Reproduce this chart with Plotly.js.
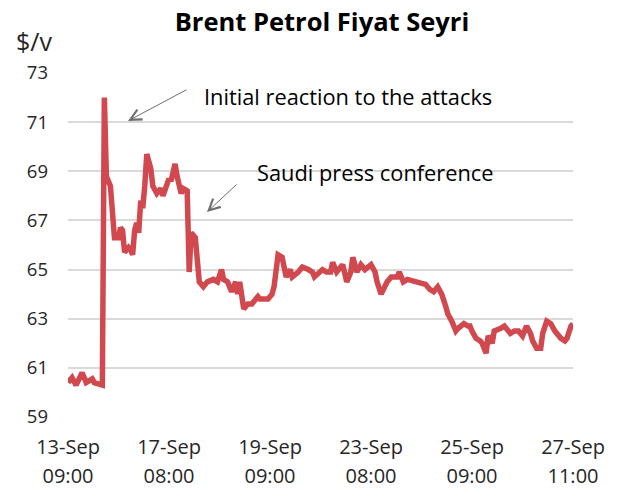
<!DOCTYPE html>
<html>
<head>
<meta charset="utf-8">
<script src="https://cdn.plot.ly/plotly-3.0.1.min.js"></script>
<style>
  html, body { margin: 0; padding: 0; background: #fff; }
  #chart { width: 618px; height: 493px; }
</style>
</head>
<body>
<div id="chart"></div>
<script>
// bar index along the (trading-hours) category axis
var barIdx = [0,2,4,7,9,12,13,16,17,18,19,21,23,25,26,27,28,30,31,32,33,34,35,36,37,38,39,41,42,44,46,47,48,50,51,53,54,56,57,59,
  60,61,63,64,65,67,69,72,74,76,77,79,81,83,84,85,87,89,91,94,95,97,99,101,102,104,106,107,108,110,111,114,116,119,121,122,
  126,128,130,131,133,136,138,140,141,143,145,147,150,152,153,155,158,160,163,164,166,168,172,174,177,179,181,183,185,187,188,
  190,192,193,196,198,199,200,202,204,205,207,208,210,211,214,216,219,221,223,225,227,229,230,232,234,235,237,239,241,244,246,247,249,250];

// Brent price, $/barrel
var brent = [60.4,60.6,60.3,60.8,60.4,60.55,60.4,60.3,60.3,72.0,68.8,68.4,66.3,66.3,66.7,66.6,65.7,65.9,65.8,65.6,66.6,66.9,66.5,67.8,67.5,68.4,69.7,69.1,68.4,68.1,68.3,68.0,68.2,68.7,68.6,69.3,68.8,68.1,68.3,68.2,
  64.9,66.5,66.3,65.4,64.5,64.3,64.5,64.6,64.5,65.0,64.6,64.5,64.1,64.5,64.0,64.5,63.4,63.6,63.6,63.9,63.8,63.8,63.8,64.0,64.3,65.6,65.5,65.1,64.7,65.0,64.7,64.9,65.1,65.0,64.9,64.7,
  65.0,64.9,64.9,65.3,64.9,65.2,64.5,64.9,65.5,64.9,65.2,65.0,65.2,64.9,64.5,64.0,64.5,64.7,64.7,64.9,64.5,64.6,64.5,64.5,64.4,64.2,64.1,64.3,64.0,63.5,63.2,
  62.9,62.5,62.6,62.8,62.7,62.7,62.5,62.2,62.1,62.0,61.6,62.3,62.0,62.5,62.6,62.7,62.4,62.5,62.5,62.3,62.7,62.4,62.1,61.8,61.8,62.4,62.9,62.8,62.5,62.2,62.1,62.2,62.7,62.8];

var tickPos = [0, 50, 100, 150, 200, 250];
var tickDays = ['13-Sep', '17-Sep', '19-Sep', '23-Sep', '25-Sep', '27-Sep'];
var tickHours = ['09:00', '08:00', '09:00', '08:00', '09:00', '11:00'];
var yTicks = [59, 61, 63, 65, 67, 69, 71, 73];

var FONT = '"Open Sans", Lato, sans-serif';
var TXT = '#262626';

var price = {
  x: barIdx,
  y: brent,
  type: 'scatter',
  mode: 'lines',
  line: { color: 'rgb(209, 72, 78)', width: 5.5 },
  hoverinfo: 'y'
};

// empty trace so the second (hours) axis row is drawn
var hoursRow = {
  x: [tickPos[0], tickPos[tickPos.length - 1]],
  y: [null, null],
  xaxis: 'x2',
  type: 'scatter',
  mode: 'lines',
  showlegend: false,
  hoverinfo: 'skip'
};

var xRange = [0, 250];

var layout = {
  width: 618,
  height: 493,
  margin: { l: 68, r: 45, t: 73, b: 76 },
  paper_bgcolor: '#fff',
  plot_bgcolor: '#fff',
  showlegend: false,
  font: { family: FONT, color: TXT },
  title: {
    text: '<b>Brent Petrol Fiyat Seyri</b>',
    font: { family: FONT, size: 25.5, color: '#000' },
    xref: 'container', x: 0.521, xanchor: 'center',
    yref: 'container', y: 0.955, yanchor: 'middle'
  },
  xaxis: {
    range: xRange,
    tickvals: tickPos,
    ticktext: tickDays,
    showgrid: false,
    zeroline: false,
    showline: false,
    ticks: '',
    ticklabelstandoff: 16,
    tickfont: { family: FONT, size: 20, color: TXT },
    fixedrange: true
  },
  xaxis2: {
    overlaying: 'x',
    anchor: 'y',
    side: 'bottom',
    range: xRange,
    tickvals: tickPos,
    ticktext: tickHours,
    showgrid: false,
    zeroline: false,
    showline: false,
    ticks: '',
    ticklabelstandoff: 45,
    tickfont: { family: FONT, size: 20, color: TXT },
    fixedrange: true
  },
  yaxis: {
    range: [59, 73],
    tickvals: yTicks,
    showgrid: true,
    gridcolor: '#d9d9d9',
    gridwidth: 2,
    zeroline: false,
    showline: false,
    ticks: '',
    ticklabelstandoff: 19,
    tickfont: { family: FONT, size: 18.5, color: TXT },
    fixedrange: true
  },
  annotations: [
    {
      text: '$/v', xref: 'paper', yref: 'paper',
      x: -0.068, y: 1.094, xanchor: 'center', yanchor: 'middle',
      showarrow: false, font: { family: FONT, size: 25, color: TXT }
    },
    {
      text: 'Initial reaction to the attacks', xref: 'x', yref: 'y',
      x: 66.3, y: 72.06, xanchor: 'left', yanchor: 'middle',
      showarrow: false, font: { family: FONT, size: 21.8, color: '#000' }
    },
    {
      text: '', xref: 'x', yref: 'y', x: 29.7, y: 71.05,
      axref: 'x', ayref: 'y', ax: 59.4, ay: 72.35,
      showarrow: true, arrowhead: 5, arrowsize: 2.2, arrowwidth: 1, arrowcolor: '#6e6e6e'
    },
    {
      text: 'Saudi press conference', xref: 'x', yref: 'y',
      x: 92.6, y: 68.97, xanchor: 'left', yanchor: 'middle',
      showarrow: false, font: { family: FONT, size: 21.8, color: '#000' }
    },
    {
      text: '', xref: 'x', yref: 'y', x: 68.8, y: 67.34,
      axref: 'x', ayref: 'y', ax: 84.2, ay: 68.52,
      showarrow: true, arrowhead: 5, arrowsize: 2.2, arrowwidth: 1, arrowcolor: '#6e6e6e'
    }
  ]
};

Plotly.newPlot('chart', [price, hoursRow], layout, { displayModeBar: false, staticPlot: true });
</script>
</body>
</html>
